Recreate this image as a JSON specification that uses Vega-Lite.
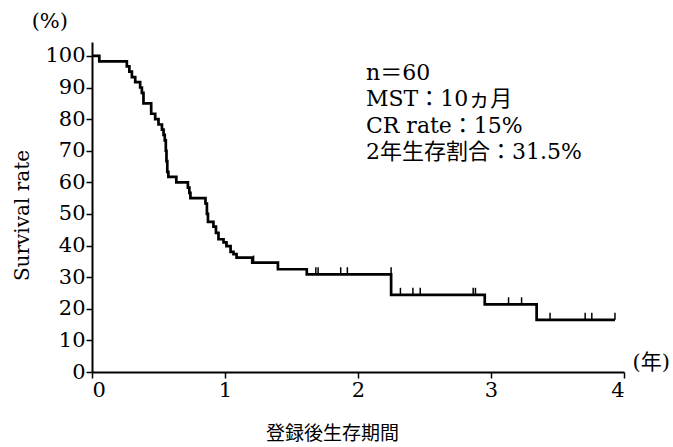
{
  "$schema": "https://vega.github.io/schema/vega-lite/v6.json",
  "width": 532,
  "height": 330,
  "autosize": "none",
  "padding": {"left": 92, "top": 42, "right": 49, "bottom": 75},
  "background": "white",
  "config": {"view": {"stroke": null}, "font": "DejaVu Serif"},
  "datasets": {
    "km": [
      {"t": 0, "s": 100}, {"t": 0.055, "s": 98.3}, {"t": 0.262, "s": 96.7}, {"t": 0.281, "s": 95},
      {"t": 0.3, "s": 93.3}, {"t": 0.325, "s": 91.7}, {"t": 0.362, "s": 90}, {"t": 0.375, "s": 88.3},
      {"t": 0.387, "s": 85}, {"t": 0.445, "s": 81.7}, {"t": 0.475, "s": 80}, {"t": 0.5, "s": 78.3},
      {"t": 0.526, "s": 76.7}, {"t": 0.538, "s": 75}, {"t": 0.547, "s": 73.3}, {"t": 0.555, "s": 70},
      {"t": 0.56, "s": 66.7}, {"t": 0.566, "s": 63.3}, {"t": 0.574, "s": 61.7}, {"t": 0.634, "s": 60},
      {"t": 0.721, "s": 58.3}, {"t": 0.732, "s": 56.7}, {"t": 0.74, "s": 55}, {"t": 0.853, "s": 53.3},
      {"t": 0.864, "s": 50}, {"t": 0.872, "s": 47.5}, {"t": 0.913, "s": 46}, {"t": 0.932, "s": 44},
      {"t": 0.951, "s": 42}, {"t": 0.989, "s": 41}, {"t": 1.011, "s": 39.8}, {"t": 1.042, "s": 38},
      {"t": 1.064, "s": 37.3}, {"t": 1.087, "s": 36.2}, {"t": 1.205, "s": 34.6}, {"t": 1.398, "s": 32.5},
      {"t": 1.615, "s": 30.9}, {"t": 2.249, "s": 24.4}, {"t": 2.953, "s": 21.4}, {"t": 3.343, "s": 16.5},
      {"t": 3.932, "s": 16.5}
    ],
    "censor": [
      {"t": 1.215, "s": 34.6}, {"t": 1.683, "s": 30.9}, {"t": 1.7, "s": 30.9}, {"t": 1.87, "s": 30.9},
      {"t": 1.92, "s": 30.9}, {"t": 2.249, "s": 30.9}, {"t": 2.319, "s": 24.4}, {"t": 2.413, "s": 24.4},
      {"t": 2.468, "s": 24.4}, {"t": 2.866, "s": 24.4}, {"t": 2.883, "s": 24.4}, {"t": 3.132, "s": 21.4},
      {"t": 3.23, "s": 21.4}, {"t": 3.444, "s": 16.5}, {"t": 3.708, "s": 16.5}, {"t": 3.758, "s": 16.5},
      {"t": 3.932, "s": 16.5}
    ],
    "notes": [
      {"t": 2.06, "s": 94.6, "label": "n＝60"},
      {"t": 2.06, "s": 86.4, "label": "MST：10ヵ月"},
      {"t": 2.06, "s": 77.8, "label": "CR rate：15%"},
      {"t": 2.06, "s": 69.6, "label": "2年生存割合：31.5%"}
    ],
    "pct": [{"t": -0.317, "s": 110.8, "label": "(%)"}],
    "year": [{"t": 4.204, "s": 2.8, "label": "(年)"}]
  },
  "encoding": {
    "x": {
      "field": "t", "type": "quantitative",
      "scale": {"domain": [0, 4], "nice": false},
      "axis": {
        "values": [0, 1, 2, 3, 4], "format": "d", "grid": false,
        "title": "登録後生存期間", "titleFont": "Noto Sans CJK JP", "titleFontSize": 19,
        "titleFontWeight": "normal", "titleColor": "black",
        "titleX": 240, "titleY": 61, "titleAlign": "center", "titleBaseline": "middle",
        "labelFont": "DejaVu Serif", "labelFontSize": 21, "labelColor": "black", "labelPadding": 1,
        "tickSize": 6, "tickColor": "black", "tickWidth": 1.5,
        "domainColor": "black", "domainWidth": 2
      }
    },
    "y": {
      "field": "s", "type": "quantitative",
      "scale": {"domain": [0, 104.4], "nice": false},
      "axis": {
        "values": [0, 10, 20, 30, 40, 50, 60, 70, 80, 90, 100], "grid": false,
        "title": "Survival rate", "titleFont": "DejaVu Serif", "titleFontSize": 20,
        "titleFontWeight": "normal", "titleColor": "black",
        "titleX": -70, "titleY": 173, "titleAngle": -90, "titleAlign": "center", "titleBaseline": "middle",
        "labelFont": "DejaVu Serif", "labelFontSize": 21, "labelColor": "black", "labelPadding": 1,
        "tickSize": 6, "tickColor": "black", "tickWidth": 1.5,
        "domainColor": "black", "domainWidth": 2
      }
    }
  },
  "layer": [
    {
      "data": {"name": "km"},
      "mark": {"type": "line", "interpolate": "step-after", "color": "black", "strokeWidth": 2.7}
    },
    {
      "data": {"name": "censor"},
      "mark": {"type": "point", "shape": "M0,0L0,-1", "size": 200, "filled": false, "stroke": "black", "strokeWidth": 1.5, "opacity": 1}
    },
    {
      "data": {"name": "notes"},
      "mark": {"type": "text", "align": "left", "baseline": "middle", "fontSize": 22, "font": "DejaVu Serif, Noto Sans CJK JP", "color": "black"},
      "encoding": {"text": {"field": "label"}}
    },
    {
      "data": {"name": "pct"},
      "mark": {"type": "text", "align": "center", "baseline": "middle", "fontSize": 21, "font": "DejaVu Serif", "color": "black"},
      "encoding": {"text": {"field": "label"}}
    },
    {
      "data": {"name": "year"},
      "mark": {"type": "text", "align": "center", "baseline": "middle", "fontSize": 21, "font": "DejaVu Serif, Noto Sans CJK JP", "color": "black"},
      "encoding": {"text": {"field": "label"}}
    }
  ]
}
